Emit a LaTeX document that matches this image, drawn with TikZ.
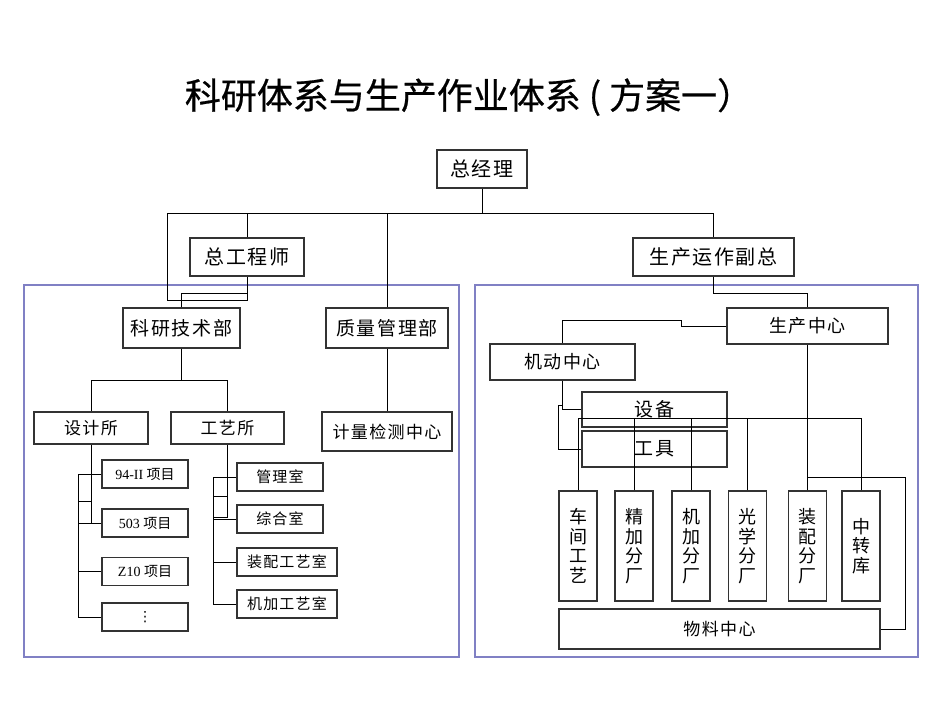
\documentclass[tikz,border=0pt]{standalone}
\usepackage{fontspec}
\setmainfont{Liberation Serif}
\newfontfamily\cjk{Noto Sans CJK SC}
\newfontfamily\cjksp{Noto Sans CJK SC}[LetterSpace=8]
\newfontfamily\cjkt{Noto Sans CJK SC}[FakeBold=0.6]
\newfontfamily\dejavu{DejaVu Sans}
\usetikzlibrary{positioning}
\definecolor{grpcol}{RGB}{128,128,196}
\tikzset{
  box/.style={draw=black!80,line width=1.1pt,inner sep=0pt,align=center},
  big/.style={box,minimum height=38pt,font=\cjksp\fontsize{20}{24}\selectfont},
  mid/.style={box,minimum height=40pt,font=\cjksp\fontsize{19}{22}\selectfont},
  sml/.style={box,font=\cjksp\fontsize{17}{20}\selectfont},
  itm/.style={box,minimum width=86pt,minimum height=28pt,font=\fontsize{14}{17}\selectfont},
  room/.style={box,minimum height=28pt,font=\cjksp\fontsize{15}{18}\selectfont},
  fac/.style={box,minimum width=38pt,minimum height=110pt,font=\cjk\fontsize{18}{19.5}\selectfont},
  grp/.style={draw=grpcol,line width=1.2pt},
  con/.style={line width=0.9pt}
}
\begin{document}
\begin{tikzpicture}[x=1pt,y=-1pt]
\useasboundingbox (0,0) rectangle (950,713);
% 科研体系与生产作业体系
\node (tt) at (469,97) {\cjkt\fontsize{36}{40}\selectfont 科研体系与生产作业体系 ( 方案一）};
\draw[grp] (24,285) rectangle (459,657);
\draw[grp] (475,285) rectangle (918,657);

\node[big,minimum width=90pt] (zjl) at (482,169) {总经理};
\node[big,minimum width=114pt] (zgcs) at (247,257) {总工程师};
\node[big,minimum width=161pt] (scyz) at (713.5,257) {生产运作副总};

\node[mid,minimum width=117pt] (kyjs) at (181.5,328) {科研技术部};
\node[mid,minimum width=122pt] (zlgl) at (387,328) {质量管理部};
\node[sml,minimum width=114pt,minimum height=32pt] (sjs) at (91,428) {设计所};
\node[sml,minimum width=113pt,minimum height=32pt] (gys) at (227.5,428) {工艺所};
\node[sml,minimum width=130pt,minimum height=39pt] (jljc) at (387,431.5) {计量检测中心};

\node[itm] (xm1) at (145,474) {94-II {\cjk 项目}};
\node[itm] (xm2) at (145,523) {503 {\cjk 项目}};
\node[itm] (xm3) at (145,571.5) {Z10 {\cjk 项目}};
\node[itm] (xm4) at (145,617) {\dejavu ⋮};

\node[room,minimum width=86pt] (gl) at (280,477) {管理室};
\node[room,minimum width=86pt] (zh) at (280,519) {综合室};
\node[room,minimum width=100pt] (zpgy) at (287,562) {装配工艺室};
\node[room,minimum width=100pt] (jjgy) at (287,604) {机加工艺室};

\node[box,minimum width=161pt,minimum height=36pt,font=\cjksp\fontsize{18}{21}\selectfont] (sczx) at (807.5,326) {生产中心};
\node[box,minimum width=145pt,minimum height=36pt,font=\cjksp\fontsize{18}{21}\selectfont] (jdzx) at (562.5,362) {机动中心};
\node[box,minimum width=145pt,minimum height=35pt,font=\cjksp\fontsize{19}{21}\selectfont] (sb) at (654.5,409.5) {设备};
\node[box,minimum width=145pt,minimum height=36pt,font=\cjksp\fontsize{19}{21}\selectfont] (gj) at (654.5,449) {工具};

\node[fac] (cjgy) at (578,546) {车\\间\\工\\艺};
\node[fac] (jjfc) at (634,546) {精\\加\\分\\厂};
\node[fac] (jgfc) at (691,546) {机\\加\\分\\厂};
\node[fac] (gxfc) at (747.5,546) {光\\学\\分\\厂};
\node[fac] (zpfc) at (807.5,546) {装\\配\\分\\厂};
\node[fac] (zzk) at (861,546) {中\\转\\库};
\node[box,minimum width=321pt,minimum height=40pt,font=\cjksp\fontsize{17}{20}\selectfont] (wlzx) at (719.5,629) {物料中心};

% 连线
\coordinate (bus) at (482,213);
\coordinate (lp) at (167,300);
\coordinate (ky) at (0,293);
\draw[con] (zjl.south) -- (bus);
\draw[con] (lp) -- (lp |- bus) -- (bus -| scyz.north) -- (scyz.north);
\draw[con] (zgcs.north) -- (zgcs.north |- bus);
\draw[con] (lp) -- (lp -| zgcs.south) -- (zgcs.south);
\draw[con] (kyjs.north) |- (ky -| zgcs.south);
\draw[con] (zlgl.north) -- (zlgl.north |- bus);
\draw[con] (zlgl.south) -- (jljc.north);
\draw[con] (kyjs.south) -- ++(0,32) coordinate (kd);
\draw[con] (sjs.north) |- (kd) -| (gys.north);

\coordinate (dx) at (78,0);
\coordinate (d5) at (0,501);
\draw[con] (sjs.south) -- (sjs.south |- xm2.west);
\draw[con] (xm1.west) -- (xm1.west -| dx) |- (xm4.west);
\draw[con] (xm2.west) -- (xm2.west -| dx);
\draw[con] (xm3.west) -- (xm3.west -| dx);
\draw[con] (d5 -| dx) -- (d5 -| sjs.south);

\coordinate (gyx) at (213,0);
\coordinate (g5) at (0,496);
\coordinate (g6) at (0,517);
\draw[con] (gys.south) -- (gys.south |- g6) -- (g6 -| gyx);
\draw[con] (gl.west) -- (gl.west -| gyx) |- (jjgy.west);
\draw[con] (g5 -| gyx) -- (g5 -| gys.south);
\draw[con] (zh.west) -- (zh.west -| gyx);
\draw[con] (zpgy.west) -- (zpgy.west -| gyx);

\draw[con] (scyz.south) -- ++(0,17) -| (sczx.north);
\draw[con] (sczx.west) -- ++(-45,0) -- ++(0,-6) -| (jdzx.north);
\draw[con] (jdzx.south) |- (sb.west);
\coordinate (jb) at (558,405);
\draw[con] (jb -| jdzx.south) -- (jb) |- (gj.west);
\coordinate (busy) at (0,418);
\draw[line width=1.6pt] (sczx.south) -- (busy -| sczx.south);
\draw[con] (busy -| cjgy.north) -- (busy -| zzk.north);
\foreach \n in {cjgy,jjfc,jgfc,gxfc,zpfc,zzk}
  \draw[con] (\n.north) -- (\n.north |- busy);
\coordinate (wl) at (0,477);
\draw[con] (wlzx.east) -- ++(25,0) |- (wl -| zpfc.north);
\end{tikzpicture}
\end{document}
